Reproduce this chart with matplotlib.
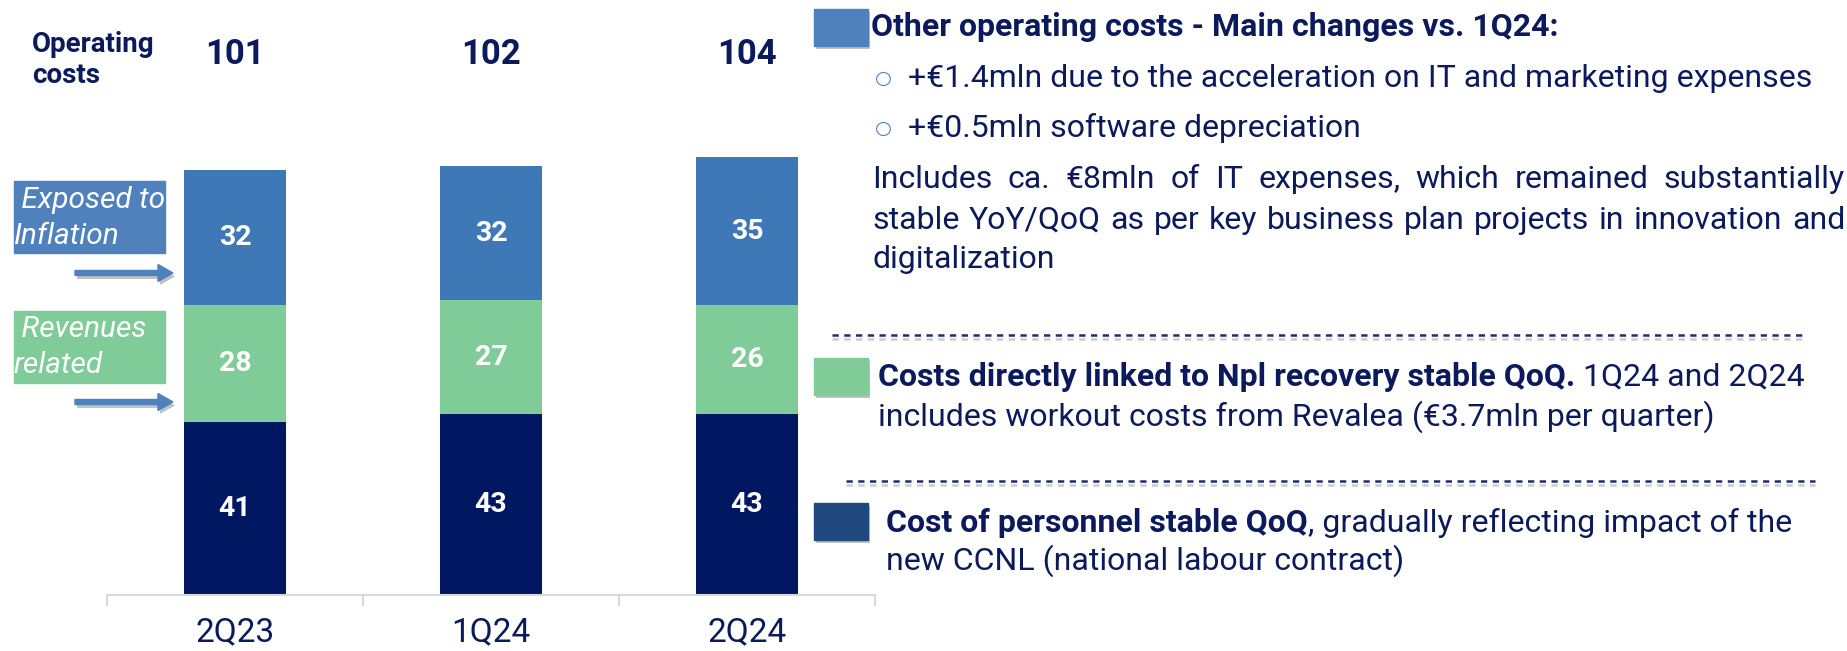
import matplotlib
matplotlib.use("Agg")
import matplotlib.pyplot as plt
import matplotlib.patheffects as pe
from matplotlib.patches import Rectangle, FancyArrow

# Data
quarters = ["2Q23", "1Q24", "2Q24"]
personnel = [41, 43, 43]
revenues_related = [28, 27, 26]
other_costs = [32, 32, 35]
totals = [101, 102, 104]

NAVY = "#001862"
GREEN = "#7fcc98"
BLUE = "#3e78b6"
BOX_BLUE = "#4f81bd"
SQ_NAVY = "#1f497d"
TXT = "#0a1a5c"
FS = 23

W, H = 1847, 651
plt.rcParams["font.family"] = ["Roboto", "DejaVu Sans"]

fig = plt.figure(figsize=(W / 100, H / 100), dpi=100)

# Bar chart axes (pixel layout: categories 256px wide, baseline at y=595)
ax = fig.add_axes([107 / W, 56 / H, 768 / W, 547 / H])
x = range(len(quarters))
b1 = ax.bar(x, personnel, width=0.4, color=NAVY)
b2 = ax.bar(x, revenues_related, width=0.4, bottom=personnel, color=GREEN)
bottom3 = [a + b for a, b in zip(personnel, revenues_related)]
b3 = ax.bar(x, other_costs, width=0.4, bottom=bottom3, color=BLUE)
for c in (b1, b2, b3):
    ax.bar_label(c, label_type="center", color="white", fontsize=20.5, fontweight="bold")

ax.set_xlim(-0.5, 2.5)
ax.set_ylim(0, 130)
for s in ("top", "right", "left"):
    ax.spines[s].set_visible(False)
ax.spines["bottom"].set_color("#d9d9d9")
ax.spines["bottom"].set_linewidth(1.5)
ax.set_yticks([])
ax.set_xticks(list(x))
ax.set_xticklabels(quarters, fontsize=24, color=TXT)
ax.set_xticks([-0.5, 0.5, 1.5, 2.5], minor=True)
ax.tick_params(axis="x", which="major", length=0, pad=15)
ax.tick_params(axis="x", which="minor", length=8, width=1.5, color="#d9d9d9")

# totals on top
for i, t in enumerate(totals):
    ax.text(i, (595 - 54) / 547, str(t), transform=ax.get_xaxis_transform(),
            ha="center", va="center", fontsize=25, fontweight="bold", color=TXT)

# overlay axes in pixel coordinates (origin top-left)
ov = fig.add_axes([0, 0, 1, 1])
ov.set_xlim(0, W)
ov.set_ylim(H, 0)
ov.axis("off")

ov.text(32, 52, "Operating", fontsize=20, fontweight="bold", color=TXT, va="baseline")
ov.text(32, 83, "costs", fontsize=20, fontweight="bold", color=TXT, va="baseline")

# side boxes and arrows
ov.add_patch(Rectangle((14, 181), 151, 72, color=BOX_BLUE))
ov.text(14, 208, " Exposed to", fontsize=21.5, style="italic", color="white", va="baseline")
ov.text(14, 244, "Inflation", fontsize=21.5, style="italic", color="white", va="baseline")
ov.add_patch(Rectangle((14, 311), 151, 72, color=GREEN))
ov.text(14, 337, " Revenues", fontsize=21.5, style="italic", color="white", va="baseline")
ov.text(14, 373, "related", fontsize=21.5, style="italic", color="white", va="baseline")

shadow = [pe.SimplePatchShadow(offset=(1.5, -2.5), shadow_rgbFace="#777777", alpha=0.45), pe.Normal()]
for ay in (273, 402):
    ov.add_patch(FancyArrow(75, ay, 98, 0, width=5, head_width=17, head_length=15,
                            length_includes_head=True, color=BOX_BLUE, path_effects=shadow))

# right-hand commentary
ov.add_patch(Rectangle((814, 9), 54, 37, color=BOX_BLUE, path_effects=shadow))
ov.text(871, 36, "Other operating costs - Main changes vs. 1Q24:", fontsize=FS,
        fontweight="bold", color=TXT, va="baseline")

for by, line in [(87, "+€1.4mln due to the acceleration on IT and marketing expenses"),
                 (137, "+€0.5mln software depreciation")]:
    ov.text(883, by - 9, "○", fontsize=14, color=BOX_BLUE, ha="center", va="center",
            family="DejaVu Sans")
    ov.text(908, by, line, fontsize=FS, color=TXT, va="baseline")


def justify(line, x0, x1, y, **kw):
    r = fig.canvas.get_renderer()
    words = line.split()
    ts = [ov.text(x0, y, w, va="baseline", **kw) for w in words]
    widths = [t.get_window_extent(r).width for t in ts]
    gap = (x1 - x0 - sum(widths)) / (len(words) - 1)
    pos = x0
    for t, w in zip(ts, widths):
        t.set_x(pos)
        pos += w + gap


justify("Includes ca. €8mln of IT expenses, which remained substantially", 872, 1845, 188,
        fontsize=FS, color=TXT)
justify("stable YoY/QoQ as per key business plan projects in innovation and", 872, 1845, 229,
        fontsize=FS, color=TXT)
ov.text(872, 268, "digitalization", fontsize=FS, color=TXT, va="baseline")

line_shadow = [pe.SimpleLineShadow(offset=(0, -3), shadow_color="#999999", alpha=0.5), pe.Normal()]
ov.plot([832, 1803], [335, 335], color="#1a2f6e", lw=1.8, ls=(0, (2.5, 2.2)), path_effects=line_shadow)
ov.plot([846, 1815], [481, 481], color="#1a2f6e", lw=1.8, ls=(0, (2.5, 2.2)), path_effects=line_shadow)

ov.add_patch(Rectangle((814, 358), 54, 37, color=GREEN, path_effects=shadow))
t1 = ov.text(878, 386, "Costs directly linked to Npl recovery stable QoQ.", fontsize=FS,
             fontweight="bold", color=TXT, va="baseline")
ov.annotate(" 1Q24 and 2Q24", xy=(1, 0), xycoords=t1, va="bottom", fontsize=FS, color=TXT)
ov.text(878, 426, "includes workout costs from Revalea (€3.7mln per quarter)", fontsize=FS,
        color=TXT, va="baseline")

ov.add_patch(Rectangle((814, 503), 54, 37, color=SQ_NAVY, path_effects=shadow))
t2 = ov.text(886, 532, "Cost of personnel stable QoQ", fontsize=FS, fontweight="bold",
             color=TXT, va="baseline")
ov.annotate(", gradually reflecting impact of the", xy=(1, 0), xycoords=t2, va="bottom",
            fontsize=FS, color=TXT)
ov.text(886, 570, "new CCNL (national labour contract)", fontsize=FS, color=TXT, va="baseline")

fig.savefig("out.png", dpi=100)
